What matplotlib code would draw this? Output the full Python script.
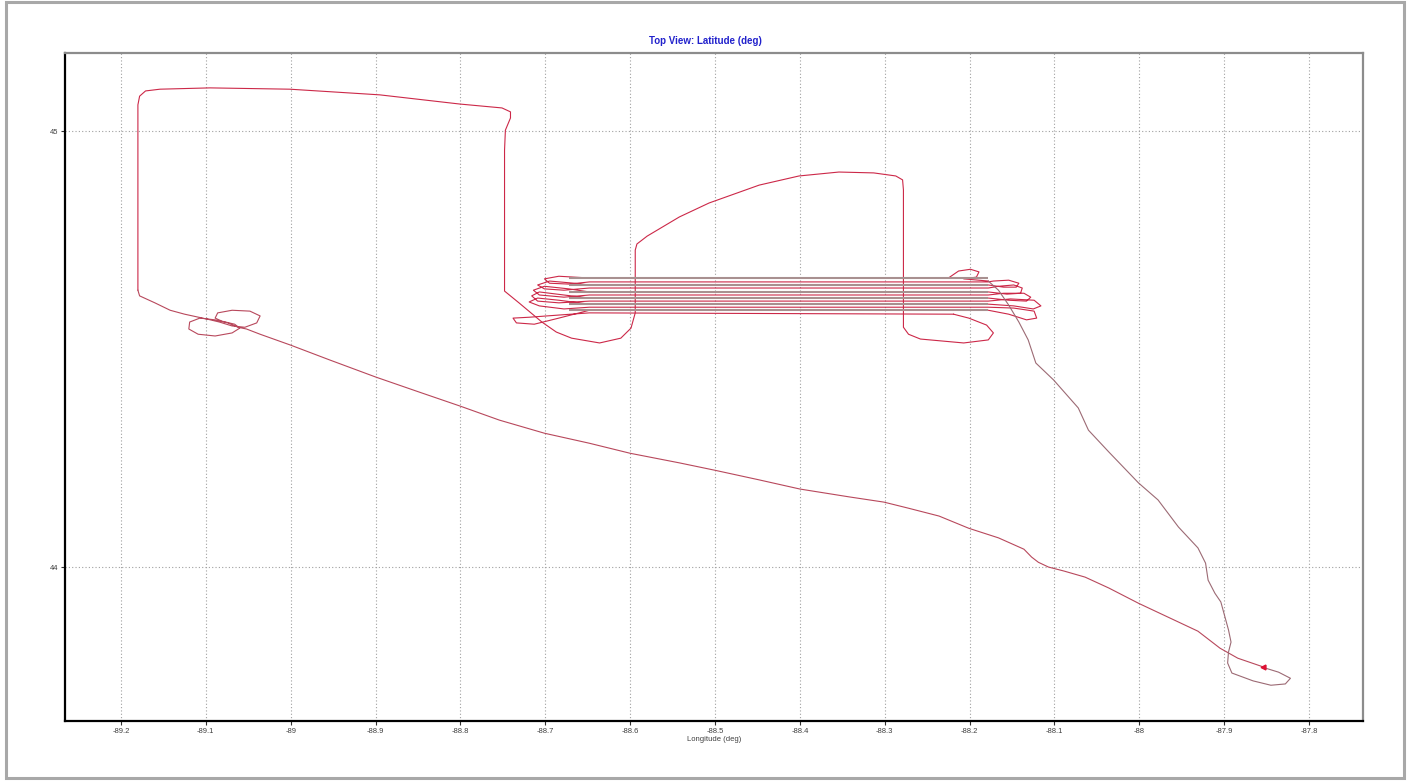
import matplotlib
matplotlib.use("Agg")
import matplotlib.pyplot as plt
from matplotlib.patches import Rectangle

plt.rcParams['font.family'] = ['Liberation Sans', 'DejaVu Sans']

# ---- flight track (lon, lat in degrees), split in legs ----
# leg 1: lower diagonal, from the arrow heading north-west, with the two small loops
low_lon = [-87.854, -87.884, -87.905, -87.931, -87.966, -88.001, -88.036, -88.064, -88.089,
           -88.107, -88.119, -88.127, -88.136, -88.166, -88.201, -88.236, -88.272, -88.301,
           -88.342, -88.400, -88.448, -88.500, -88.542, -88.600, -88.648, -88.701, -88.754,
           -88.800, -88.848, -88.900, -88.954, -89.000, -89.036, -89.052, -89.062, -89.074,
           -89.089, -89.107, -89.119, -89.120, -89.109, -89.089, -89.069, -89.060, -89.066,
           -89.081, -89.089, -89.086, -89.069, -89.048, -89.036, -89.040, -89.054, -89.069,
           -89.084, -89.099, -89.125, -89.142, -89.160, -89.178, -89.180]
low_lat = [43.771, 43.791, 43.814, 43.853, 43.885, 43.917, 43.952, 43.977, 43.991,
           44.000, 44.011, 44.023, 44.041, 44.067, 44.089, 44.117, 44.135, 44.149,
           44.161, 44.179, 44.200, 44.222, 44.239, 44.261, 44.284, 44.307, 44.337,
           44.369, 44.401, 44.436, 44.475, 44.509, 44.534, 44.546, 44.550, 44.560,
           44.567, 44.571, 44.562, 44.546, 44.534, 44.530, 44.537, 44.548, 44.557,
           44.564, 44.571, 44.583, 44.589, 44.587, 44.576, 44.560, 44.550, 44.553,
           44.562, 44.569, 44.580, 44.589, 44.606, 44.622, 44.635]

# leg 2: north, east along the top, south, the two bowls and the hump
north_lon = [-89.180, -89.180, -89.180, -89.178, -89.171, -89.154, -89.095, -89.001, -88.895,
             -88.801, -88.751, -88.741, -88.741, -88.747, -88.748, -88.748, -88.731, -88.704,
             -88.687, -88.669, -88.636, -88.611, -88.599, -88.594, -88.594, -88.592, -88.580,
             -88.542, -88.507, -88.448, -88.401, -88.354, -88.313, -88.287, -88.279, -88.278,
             -88.278, -88.272, -88.258, -88.207, -88.178, -88.172, -88.180, -88.201, -88.219]
north_lat = [44.635, 44.842, 45.060, 45.080, 45.092, 45.096, 45.099, 45.096, 45.083,
             45.062, 45.053, 45.044, 45.030, 45.002, 44.956, 44.633, 44.606, 44.562,
             44.539, 44.525, 44.514, 44.525, 44.548, 44.583, 44.727, 44.741, 44.759,
             44.803, 44.835, 44.876, 44.897, 44.906, 44.904, 44.897, 44.888, 44.865,
             44.550, 44.534, 44.523, 44.514, 44.521, 44.537, 44.555, 44.571, 44.580]

# leg 3: racetrack laps
race_lon = [-88.219, -88.648,
            -88.684, -88.719, -88.738, -88.734, -88.713, -88.684, -88.648, -88.178,
            -88.154, -88.133, -88.121, -88.124, -88.148, -88.178, -88.648,
            -88.678, -88.707, -88.719, -88.709, -88.684, -88.648, -88.178,
            -88.148, -88.125, -88.116, -88.124, -88.152, -88.178, -88.648,
            -88.684, -88.709, -88.716, -88.707, -88.678, -88.648, -88.178,
            -88.154, -88.133, -88.128, -88.136, -88.160, -88.178, -88.648,
            -88.678, -88.707, -88.714, -88.701, -88.672, -88.648, -88.178,
            -88.156, -88.140, -88.138, -88.148, -88.166, -88.178, -88.648,
            -88.678, -88.701, -88.709, -88.695, -88.666, -88.648, -88.178,
            -88.160, -88.145, -88.142, -88.154, -88.172, -88.178, -88.648,
            -88.672, -88.695, -88.701, -88.684, -88.648, -88.225,
            -88.213, -88.199, -88.189, -88.192, -88.207, -88.178]
race_lat = [44.580, 44.583,
            44.578, 44.573, 44.571, 44.560, 44.557, 44.571, 44.589, 44.589,
            44.580, 44.567, 44.571, 44.587, 44.594, 44.596, 44.596,
            44.592, 44.599, 44.608, 44.617, 44.612, 44.603, 44.603,
            44.599, 44.592, 44.599, 44.612, 44.615, 44.610, 44.610,
            44.606, 44.610, 44.622, 44.631, 44.624, 44.617, 44.617,
            44.612, 44.610, 44.619, 44.628, 44.628, 44.624, 44.624,
            44.619, 44.624, 44.635, 44.644, 44.638, 44.631, 44.631,
            44.626, 44.628, 44.640, 44.647, 44.644, 44.640, 44.640,
            44.635, 44.638, 44.647, 44.656, 44.651, 44.647, 44.647,
            44.642, 44.642, 44.651, 44.658, 44.656, 44.654, 44.654,
            44.649, 44.651, 44.661, 44.667, 44.663, 44.663,
            44.679, 44.683, 44.677, 44.665, 44.661, 44.656]

# eastbound legs of the racetrack (drawn grey)
east_lat = [44.589, 44.603, 44.617, 44.631, 44.647, 44.663]
east_lon_start = -88.672
east_lon_end = -88.178

# leg 4: south-east diagonal and the final loop
south_lon = [-88.178, -88.166, -88.154, -88.142, -88.131, -88.122, -88.101, -88.072, -88.060,
             -88.036, -88.001, -87.978, -87.954, -87.931, -87.922, -87.919, -87.911, -87.904,
             -87.895, -87.892, -87.895, -87.896, -87.891, -87.866, -87.845, -87.828, -87.822,
             -87.836, -87.851]
south_lat = [44.656, 44.635, 44.601, 44.562, 44.521, 44.468, 44.429, 44.365, 44.314,
             44.264, 44.193, 44.154, 44.092, 44.044, 44.009, 43.970, 43.940, 43.920,
             43.856, 43.828, 43.805, 43.780, 43.757, 43.739, 43.729, 43.732, 43.745,
             43.759, 43.768]

arrow_lon, arrow_lat = -87.854, 43.771

x_ticks = [-89.2, -89.1, -89.0, -88.9, -88.8, -88.7, -88.6, -88.5, -88.4, -88.3,
           -88.2, -88.1, -88.0, -87.9, -87.8]
x_labels = ['-89.2', '-89.1', '-89', '-88.9', '-88.8', '-88.7', '-88.6', '-88.5', '-88.4',
            '-88.3', '-88.2', '-88.1', '-88', '-87.9', '-87.8']
y_ticks = [44, 45]
y_labels = ['44', '45']

W, H = 1413, 782
fig = plt.figure(figsize=(W / 100, H / 100), dpi=100)
fig.patch.set_facecolor('white')

# window frame
fig.patches.append(Rectangle((6 / W, 4 / H), 1398 / W, 776 / H, transform=fig.transFigure,
                             fill=False, edgecolor='#a8a8a8', lw=2.2))

ax = fig.add_axes([65 / W, 1 - 721 / H, 1298 / W, 668 / H])
ax.set_xlim(-89.2659, -87.7365)
ax.set_ylim(43.647, 45.179)

red = '#cc2848'
ax.plot(north_lon, north_lat, color=red, lw=0.8, zorder=3)
ax.plot(low_lon, low_lat, color='#b8485c', lw=0.8, zorder=3)
ax.plot(race_lon, race_lat, color=red, lw=0.8, zorder=3)
ax.hlines(east_lat, east_lon_start, east_lon_end, color='#a89090', lw=1.5, zorder=4)
ax.plot(south_lon, south_lat, color='#9c6a74', lw=0.8, zorder=3)
ax.plot([arrow_lon], [arrow_lat], marker='<', color='#dd1133', ms=3.5, zorder=5)

ax.set_xticks(x_ticks)
ax.set_xticklabels(x_labels)
ax.set_yticks(y_ticks)
ax.set_yticklabels(y_labels)
ax.tick_params(axis='both', labelsize=5.5, labelcolor='#404040', length=3, width=0.8,
               pad=2, color='#303030')
ax.grid(True, color='#a0a0a0', lw=0.8, linestyle=(0, (1, 2)))
ax.set_axisbelow(True)

for side in ['left', 'bottom']:
    ax.spines[side].set_color('black')
    ax.spines[side].set_linewidth(1.6)
for side in ['top', 'right']:
    ax.spines[side].set_color('#8c8c8c')
    ax.spines[side].set_linewidth(1.6)

ax.set_xlabel('Longitude (deg)', fontsize=5.5, color='#404040', labelpad=1)
fig.text(705 / W, 1 - 41 / H, 'Top View: Latitude (deg)', color='#2222cc',
         fontsize=7, fontweight='bold', ha='center', va='center')

fig.savefig('out.png', dpi=100)
